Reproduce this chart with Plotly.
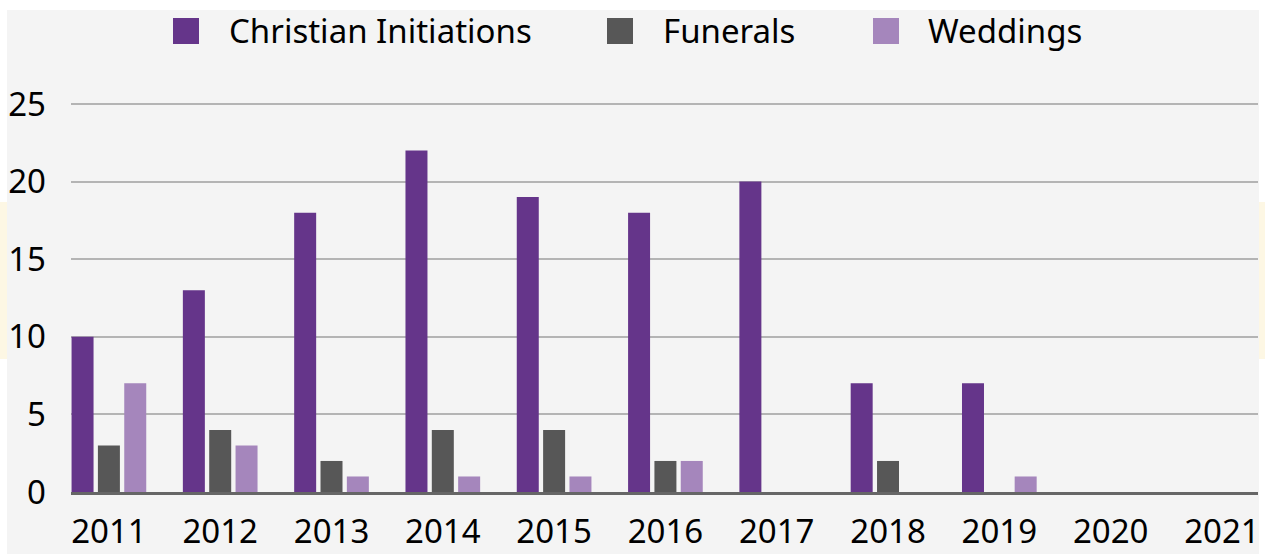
import plotly.graph_objects as go

years = [2011, 2012, 2013, 2014, 2015, 2016, 2017, 2018, 2019, 2020, 2021]
series_names = ["Christian Initiations", "Funerals", "Weddings"]
christian_initiations = [10, 13, 18, 22, 19, 18, 20, 7, 7, 0, 0]
funerals = [3, 4, 2, 4, 4, 2, 0, 2, 0, 0, 0]
weddings = [7, 3, 1, 1, 1, 2, 0, 0, 1, 0, 0]
y_ticks = [0, 5, 10, 15, 20, 25]

colors = ["#65358A", "#575757", "#A586BC"]
W, H = 1265, 554
L, R, T, B = 71, 1258, 102, 492  # plot area in pixels
Y25 = 104  # pixel row of the value 25
ymax = 25 * (B - T) / (B - Y25)

def px(x):
    return (x - L) / (R - L)

def py(y):
    return (B - y) / (B - T)

FONT = "Noto Sans"
FS = 33

fig = go.Figure()
for name, vals, col in zip(series_names, [christian_initiations, funerals, weddings], colors):
    fig.add_trace(go.Bar(x=years, y=vals, name=name, marker_color=col,
                         marker_line_width=0, showlegend=False))

shapes = [
    dict(type="rect", xref="paper", yref="paper", x0=px(7), x1=px(1259), y0=py(10), y1=py(560),
         fillcolor="#F4F4F4", line_width=0, layer="below"),
    dict(type="rect", xref="paper", yref="paper", x0=px(-2), x1=px(7), y0=py(202), y1=py(359),
         fillcolor="#FDF7E4", line_width=0, layer="below"),
    dict(type="rect", xref="paper", yref="paper", x0=px(1259), x1=px(1270), y0=py(202), y1=py(359),
         fillcolor="#FDF7E4", line_width=0, layer="below"),
]
annotations = []
sq_x = [173, 607, 873]
txt_x = [227, 661, 926]
for name, col, sx, tx in zip(series_names, colors, sq_x, txt_x):
    shapes.append(dict(type="rect", xref="paper", yref="paper", x0=px(sx), x1=px(sx + 26),
                       y0=py(44), y1=py(18), fillcolor=col, line_width=0))
    annotations.append(dict(xref="paper", yref="paper", x=px(tx), y=py(31), text=name,
                            showarrow=False, xanchor="left", yanchor="middle",
                            font=dict(family=FONT, size=FS, color="#000000")))

fig.update_layout(
    width=W, height=H,
    margin=dict(l=L, r=W - R, t=T, b=H - B, pad=0),
    paper_bgcolor="#FFFFFF",
    plot_bgcolor="rgba(0,0,0,0)",
    barmode="group", bargap=0.29, bargroupgap=0.165,
    shapes=shapes, annotations=annotations,
    font=dict(family=FONT, size=FS, color="#000000"),
    xaxis=dict(range=[2011 - 0.3405, 2021 + 0.324], tickvals=years, ticktext=[str(y) for y in years],
               showgrid=False, zeroline=False, showline=True, linecolor="#666666", linewidth=3,
               ticks="", ticklabelstandoff=8, automargin=False,
               tickfont=dict(family=FONT, size=FS, color="#000000")),
    yaxis=dict(range=[0, ymax], tickvals=y_ticks, showgrid=True, gridcolor="#B4B4B4", gridwidth=2,
               zeroline=False, showline=False, ticks="", ticklabelstandoff=24, automargin=False,
               tickfont=dict(family=FONT, size=FS, color="#000000")),
)

fig.write_html("out.html", config={"displayModeBar": False},
               post_script="document.body.style.margin='0';document.body.style.padding='0';"
                           "document.body.style.overflow='hidden';")
